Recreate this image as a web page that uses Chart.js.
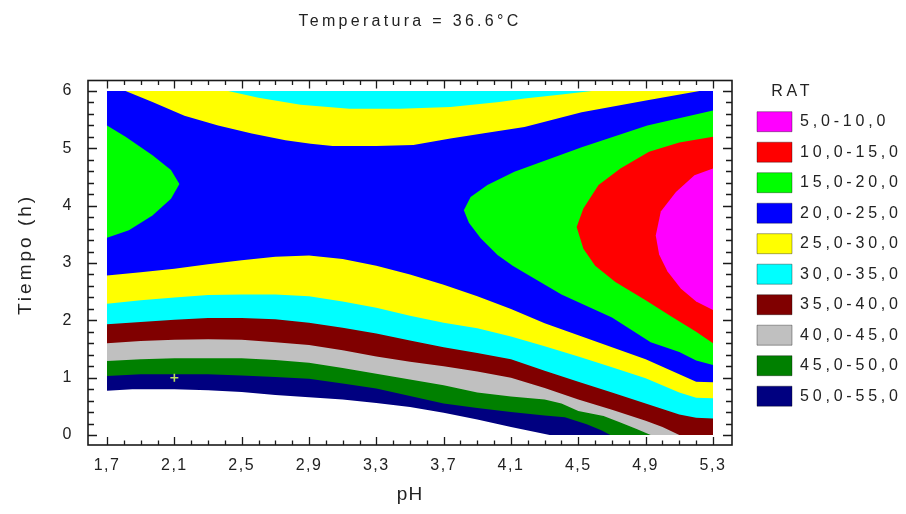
<!DOCTYPE html>
<html><head><meta charset="utf-8">
<script src="https://cdn.jsdelivr.net/npm/chart.js@4.4.1/dist/chart.umd.min.js"></script>
<style>html,body{margin:0;padding:0;background:#fff}canvas{display:block}</style>
</head><body>
<canvas id="c" width="906" height="514"></canvas>
<script>
// ---------------- data ----------------
const chartTitle = 'Temperatura = 36.6°C';
const legendTitle = 'RAT';
const bandLabels = ['5,0-10,0','10,0-15,0','15,0-20,0','20,0-25,0','25,0-30,0','30,0-35,0','35,0-40,0','40,0-45,0','45,0-50,0','50,0-55,0'];
const bandColors = ['#ff00ff','#ff0000','#00ff00','#0000ff','#ffff00','#00ffff','#800000','#c0c0c0','#008000','#000080'];
const xTickValues = [1.7,2.1,2.5,2.9,3.3,3.7,4.1,4.5,4.9,5.3];
const yTickValues = [0,1,2,3,4,5,6];
const PH_MIN = 1.7, PH_MAX = 5.3, T_MIN = 0, T_MAX = 6;

// contour lines: [pH, Tiempo (h)]
const c55 = [[1.7,0.77],[1.85,0.80],[2.1,0.80],[2.3,0.78],[2.5,0.75],[2.7,0.70],[2.9,0.66],[3.1,0.62],[3.3,0.56],[3.5,0.49],[3.7,0.39],[3.9,0.27],[4.1,0.14],[4.33,0]];
const c50 = [[1.7,1.03],[1.9,1.06],[2.1,1.06],[2.3,1.06],[2.5,1.04],[2.7,1.01],[2.9,0.98],[3.1,0.90],[3.3,0.81],[3.5,0.68],[3.7,0.55],[3.9,0.47],[4.1,0.40],[4.3,0.34],[4.42,0.31],[4.55,0.19],[4.64,0.08],[4.69,0]];
const c45 = [[1.7,1.29],[1.9,1.32],[2.1,1.34],[2.3,1.34],[2.5,1.34],[2.7,1.31],[2.9,1.26],[3.1,1.17],[3.3,1.07],[3.5,0.97],[3.7,0.87],[3.9,0.74],[4.1,0.67],[4.3,0.62],[4.4,0.55],[4.5,0.42],[4.65,0.33],[4.75,0.22],[4.85,0.10],[4.93,0]];
const c40 = [[1.7,1.60],[1.9,1.64],[2.1,1.66],[2.3,1.67],[2.5,1.66],[2.7,1.62],[2.9,1.57],[3.1,1.48],[3.3,1.37],[3.5,1.28],[3.7,1.20],[3.9,1.11],[4.1,1.00],[4.3,0.82],[4.5,0.62],[4.7,0.44],[4.9,0.25],[5.0,0.14],[5.1,0]];
const c35 = [[1.7,1.93],[1.9,1.97],[2.1,2.01],[2.3,2.04],[2.5,2.04],[2.7,2.02],[2.9,1.96],[3.1,1.87],[3.3,1.77],[3.5,1.65],[3.7,1.53],[3.9,1.43],[4.1,1.32],[4.3,1.12],[4.5,0.93],[4.7,0.74],[4.9,0.55],[5.1,0.36],[5.2,0.30],[5.3,0.29]];
const c30Low = [[1.7,2.29],[1.9,2.35],[2.1,2.40],[2.3,2.44],[2.5,2.45],[2.7,2.45],[2.9,2.42],[3.1,2.33],[3.3,2.22],[3.5,2.08],[3.7,1.96],[3.9,1.86],[4.1,1.72],[4.3,1.55],[4.5,1.37],[4.7,1.18],[4.9,0.99],[5.1,0.74],[5.2,0.65],[5.3,0.64]];
const c30Top = [[4.58,6],[4.4,5.94],[4.18,5.87],[4.03,5.81],[3.74,5.72],[3.44,5.69],[3.14,5.69],[2.85,5.76],[2.6,5.88],[2.42,6]];
const c25Low = [[1.7,2.78],[1.9,2.84],[2.1,2.90],[2.3,2.98],[2.5,3.05],[2.7,3.11],[2.9,3.13],[3.1,3.07],[3.3,2.95],[3.5,2.80],[3.7,2.62],[3.9,2.42],[4.1,2.20],[4.3,1.95],[4.5,1.74],[4.7,1.53],[4.9,1.32],[5.1,1.06],[5.2,0.93],[5.3,0.92]];
const c25Top = [[5.22,6],[4.91,5.84],[4.52,5.63],[4.18,5.37],[3.93,5.26],[3.74,5.17],[3.52,5.06],[3.3,5.04],[3.04,5.04],[2.91,5.08],[2.76,5.14],[2.56,5.26],[2.36,5.40],[2.16,5.57],[1.97,5.81],[1.81,6]];
const c20Left = [[1.7,5.40],[1.81,5.20],[1.97,4.88],[2.08,4.62],[2.13,4.38],[2.08,4.12],[1.97,3.83],[1.83,3.57],[1.7,3.44]];
const c20Right = [[5.3,1.22],[5.2,1.30],[5.1,1.45],[4.93,1.62],[4.7,2.05],[4.4,2.45],[4.18,2.83],[4.11,2.95],[4.02,3.14],[3.92,3.43],[3.85,3.70],[3.82,3.92],[3.86,4.15],[3.96,4.36],[4.12,4.59],[4.52,5.02],[4.91,5.40],[5.3,5.66]];
const c15 = [[5.3,1.60],[5.2,1.80],[5.05,2.07],[4.9,2.35],[4.72,2.67],[4.6,2.95],[4.53,3.25],[4.49,3.63],[4.53,3.95],[4.62,4.36],[4.75,4.65],[4.92,4.94],[5.1,5.10],[5.3,5.20]];
const c10 = [[5.3,2.18],[5.2,2.33],[5.11,2.55],[5.03,2.85],[4.98,3.15],[4.96,3.48],[4.99,3.90],[5.08,4.24],[5.19,4.53],[5.3,4.65]];
const markerPoint = [[2.1,1.0]];

// ---------------- regions (painted from highest band to lowest) ----------------
const BR = [PH_MAX,T_MIN], TR = [PH_MAX,T_MAX], TL = [PH_MIN,T_MAX];
const regions = [
  {band:9, pts:[...c55, BR, TR, TL]},
  {band:8, pts:[...c50, BR, TR, TL]},
  {band:7, pts:[...c45, BR, TR, TL]},
  {band:6, pts:[...c40, BR, TR, TL]},
  {band:5, pts:[...c35, TR, TL]},
  {band:4, pts:[...c30Low, TR, ...c30Top, TL]},
  {band:3, pts:[...c25Low, TR, ...c25Top, TL]},
  {band:2, pts:c20Left},
  {band:2, pts:c20Right},
  {band:1, pts:c15},
  {band:0, pts:c10}
];
const toXY = a => a.map(([x,y]) => ({x, y}));

const datasets = regions.map((r, i) => ({
  type:'line', label: bandLabels[r.band], data: toXY(r.pts),
  backgroundColor: bandColors[r.band], borderWidth: 0, pointRadius: 0, pointHoverRadius: 0,
  fill: 'shape', tension: 0, order: 100 - i
}));
datasets.push({type:'line', label:'punto', data: toXY(markerPoint), showLine:false,
  pointStyle:'cross', pointRadius:4, borderColor:'#b9e35c', borderWidth:1.6, order:0});

// ---------------- helpers / plugins ----------------
const FONT = "'Liberation Sans', Arial, sans-serif";
const TXT = '#222';
function wrapSpacing(obj, method, ls){
  if (!obj || obj['_ls_'+method]) return;
  const orig = obj[method];
  obj[method] = function(...a){
    const ctx = this.ctx; const prev = ctx.letterSpacing;
    ctx.letterSpacing = ls; const r = orig.apply(this, a); ctx.letterSpacing = prev; return r;
  };
  obj['_ls_'+method] = true;
}
const spacingPlugin = {
  id:'spacing',
  beforeUpdate(c){ c.ctx.letterSpacing = '1.5px'; },
  beforeLayout(c){
    c.ctx.letterSpacing = '1.5px';
    wrapSpacing(c.legend, 'fit', '3.8px');
    wrapSpacing(c.legend, 'draw', '3.8px');
    wrapSpacing(c.titleBlock, 'draw', '3.3px');
  },
  afterLayout(c){
    wrapSpacing(c.scales.y, 'drawTitle', '3px');
    wrapSpacing(c.scales.x, 'drawTitle', '1px');
  },
  beforeDraw(c){ c.ctx.letterSpacing = '1.5px'; }
};
const framePlugin = {
  id:'frame',
  afterDraw(chart){
    const {ctx, chartArea:a, scales:{x, y}} = chart;
    ctx.save();
    ctx.strokeStyle = '#1a1a1a';
    ctx.lineWidth = 1.6;
    ctx.strokeRect(a.left, a.top, a.right - a.left, a.bottom - a.top);
    ctx.lineWidth = 1.3;
    ctx.beginPath();
    for (let k = 0; k <= 36; k++) {
      const px = Math.round(x.getPixelForValue(PH_MIN + k * 0.1)) + 0.5;
      const len = k % 4 === 0 ? 8 : 4.5;
      ctx.moveTo(px, a.bottom); ctx.lineTo(px, a.bottom - len);
      ctx.moveTo(px, a.top); ctx.lineTo(px, a.top + len);
    }
    for (let k = 0; k <= 30; k++) {
      const py = Math.round(y.getPixelForValue(k * 0.2)) + 0.5;
      const len = k % 5 === 0 ? 9 : 6;
      ctx.moveTo(a.left, py); ctx.lineTo(a.left + len, py);
      ctx.moveTo(a.right, py); ctx.lineTo(a.right - len, py);
    }
    ctx.stroke();
    ctx.restore();
  }
};

new Chart(document.getElementById('c'), {
  type: 'line',
  data: { datasets },
  options: {
    responsive: false, animation: false, devicePixelRatio: 1,
    events: [],
    layout: { padding: { left: 0, right: 0, top: 0, bottom: 0 } },
    plugins: {
      tooltip: { enabled: false },
      title: {
        display: true, text: chartTitle, fullSize: false, color: TXT,
        font: { family: FONT, size: 16, weight: 'normal', lineHeight: 1.2 },
        padding: { top: 12.4, bottom: 48.9 }
      },
      legend: {
        display: true, position: 'right', align: 'start', fullSize: false, maxWidth: 159.5,
        title: { display: true, text: '   ' + legendTitle, position: 'start', color: TXT,
          font: { family: FONT, size: 16, lineHeight: 1.0 }, padding: { top: 3.5, bottom: 1.2 } },
        labels: {
          boxWidth: 35, boxHeight: 20, padding: 10.5, color: TXT,
          font: { family: FONT, size: 16 },
          generateLabels: () => bandLabels.map((t, i) => ({
            text: t, fillStyle: bandColors[i], strokeStyle: 'rgba(0,0,0,0.35)', lineWidth: 1,
            hidden: false, index: i, fontColor: TXT
          }))
        }
      }
    },
    scales: {
      x: {
        type: 'linear', position: 'bottom', min: 1.587, max: 5.413,
        afterBuildTicks: s => { s.ticks = xTickValues.map(v => ({ value: v })); },
        afterFit: s => { s.height = 69; },
        grid: { display: false, drawTicks: false }, border: { display: false },
        ticks: { padding: 10.5, color: TXT, autoSkip: false, maxRotation: 0,
          font: { family: FONT, size: 16 },
          callback: v => Number(v).toFixed(1).replace('.', ',') },
        title: { display: true, text: 'pH', color: TXT, font: { family: FONT, size: 19 },
          padding: { top: 0, bottom: 8 } }
      },
      y: {
        type: 'linear', position: 'left', min: -0.174, max: 6.183,
        afterBuildTicks: s => { s.ticks = yTickValues.map(v => ({ value: v })); },
        afterFit: s => { s.width = 88; },
        grid: { display: false, drawTicks: false }, border: { display: false },
        ticks: { padding: 15, color: TXT, font: { family: FONT, size: 16 },
          callback: v => String(v) },
        title: { display: true, text: '  Tiempo (h)', color: TXT, font: { family: FONT, size: 19 },
          padding: { top: 14, bottom: 0 } }
      },
      y2: {
        type: 'linear', position: 'right', display: true,
        grid: { display: false, drawTicks: false }, border: { display: false },
        ticks: { display: false },
        afterFit: s => { s.width = 14.5; }
      }
    }
  },
  plugins: [spacingPlugin, framePlugin]
});
</script>
</body></html>
